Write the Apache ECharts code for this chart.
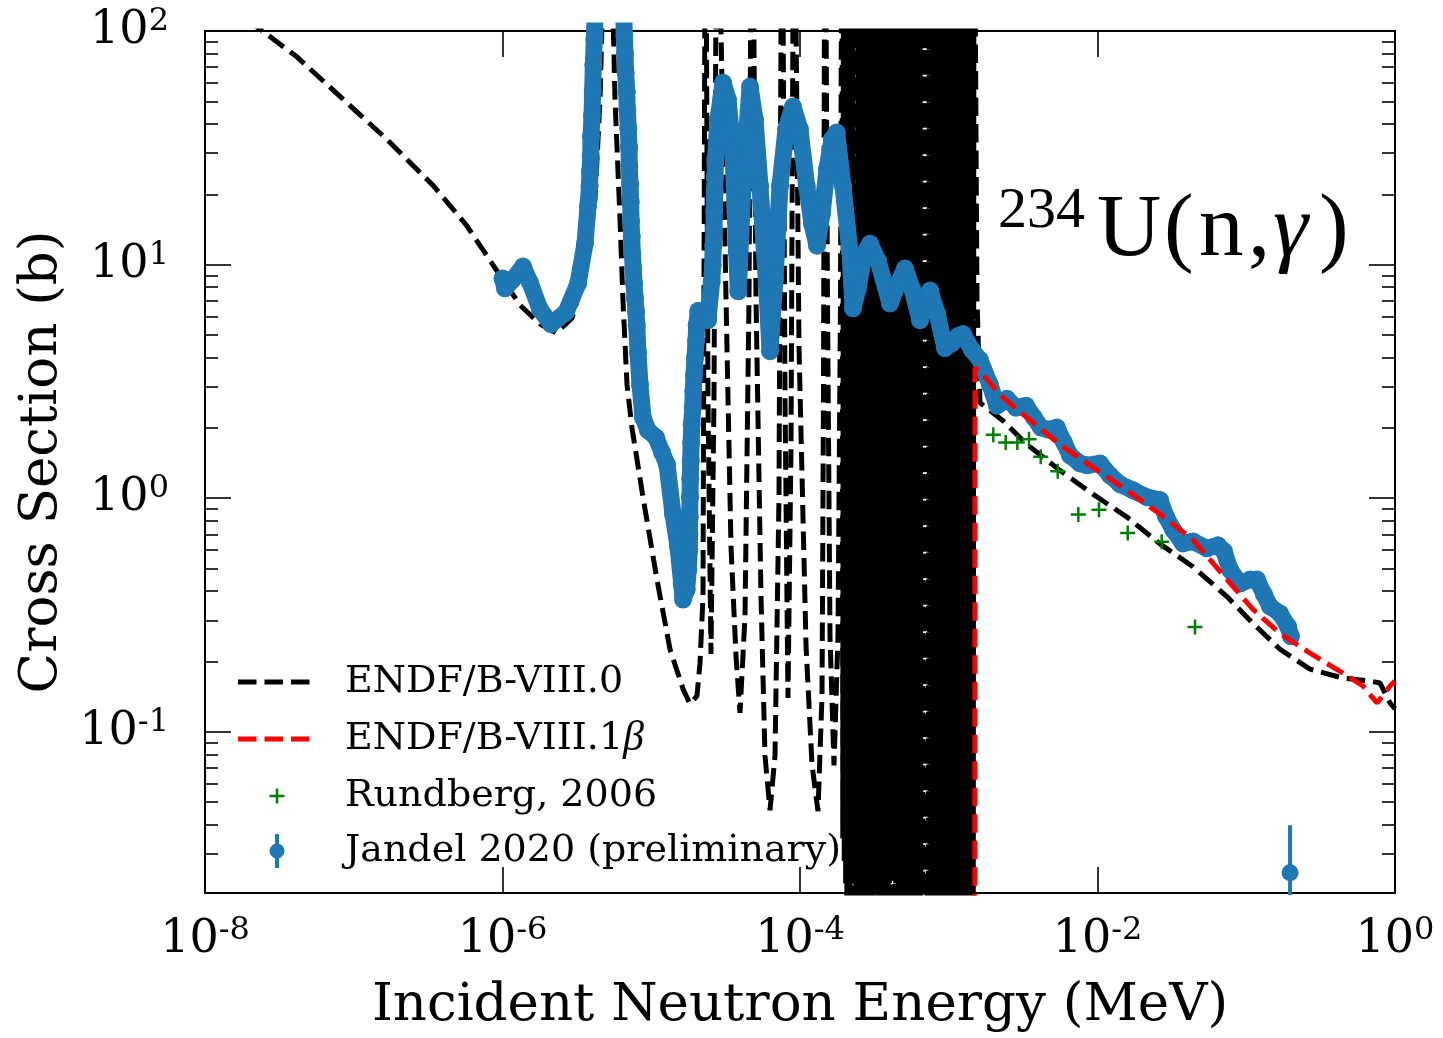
<!DOCTYPE html>
<html>
<head>
<meta charset="utf-8">
<title>234U(n,γ) capture cross section</title>
<script src="https://cdn.jsdelivr.net/npm/echarts@6/dist/echarts.min.js"></script>
<style>
  html, body { margin: 0; padding: 0; background: #ffffff; }
  #chart { width: 1443px; height: 1038px; }
</style>
</head>
<body>
<div id="chart"></div>
<script>
// Incident neutron energy in MeV, capture cross section in barns.
// Resonance tops run far above the plotted range (given as 1000 b) and the
// deepest resonance valleys drop below its lower edge.

// ENDF/B-VIII.0: 1/v region, resolved resonances, then the smooth fast range
const endf80 = [
  [1e-8, 152], [2.47e-8, 99.3], [4.13e-8, 77.7], [8.08e-8, 52.5], [1.665e-7, 34.4],
  [3.42e-7, 21.8], [5.74e-7, 14.7], [8.67e-7, 9.93], [1.31e-6, 6.71], [1.787e-6, 5.56],
  [2.289e-6, 5.09], [2.932e-6, 5.89], [3.586e-6, 9.16], [4.187e-6, 19.1], [4.525e-6, 50.9],
  [5.12e-6, 1000], [5.706e-6, 50.9], [6.165e-6, 15.7], [6.458e-6, 6.96], [6.871e-6, 3.06],
  [7.42e-6, 2.0], [8.80e-6, 1.01], [1.093e-5, 0.448], [1.337e-5, 0.2255], [1.635e-5, 0.1524],
  [1.822e-5, 0.1316], [2.030e-5, 0.1423], [2.127e-5, 0.1966], [2.228e-5, 0.379], [2.316e-5, 1000],
  [2.406e-5, 2.69], [2.521e-5, 0.215], [2.641e-5, 2.69], [2.766e-5, 1000], [2.944e-5, 100],
  [3.181e-5, 7.17], [3.437e-5, 0.619], [3.714e-5, 0.2106], [3.950e-5, 0.1205], [4.268e-5, 0.3116],
  [4.541e-5, 7.17], [4.756e-5, 1000], [5.06e-5, 7.17], [5.467e-5, 0.379], [5.817e-5, 0.079],
  [6.285e-5, 0.0461], [6.791e-5, 0.079], [7.224e-5, 1.01], [7.568e-5, 1000], [7.93e-5, 2.69],
  [8.30e-5, 0.1395], [8.70e-5, 1.648], [9.11e-5, 1000], [9.85e-5, 4.39], [1.098e-4, 0.2323],
  [1.204e-4, 0.0724], [1.321e-4, 0.0457], [1.406e-4, 0.1423], [1.438e-4, 2.69], [1.473e-4, 1000],
  [1.530e-4, 7.17], [1.591e-4, 0.2563], [1.693e-4, 0.0717], [1.800e-4, 0.2563], [1.872e-4, 7.17],
  // densely packed resonances up to the end of the resolved range
  [1.916e-4, 1000], [1.939e-4, 0.035], [1.961e-4, 1000], [1.984e-4, 0.028], [2.007e-4, 1000],
  [2.027e-4, 0.022], [2.046e-4, 1000], [2.066e-4, 0.018], [2.086e-4, 1000], [2.115e-4, 0.030],
  [2.143e-4, 1000], [2.173e-4, 0.012], [2.202e-4, 1000], [2.228e-4, 0.015], [2.254e-4, 1000],
  [2.281e-4, 0.024], [2.307e-4, 1000], [2.330e-4, 0.026], [2.352e-4, 1000], [2.375e-4, 0.010],
  [2.398e-4, 1000], [2.431e-4, 0.012], [2.464e-4, 1000], [2.498e-4, 0.019], [2.531e-4, 1000],
  [2.556e-4, 0.020], [2.581e-4, 1000], [2.606e-4, 0.009], [2.631e-4, 1000], [2.668e-4, 0.010],
  [2.704e-4, 1000], [2.741e-4, 0.016], [2.778e-4, 1000], [2.811e-4, 0.028], [2.843e-4, 1000],
  [2.877e-4, 0.011], [2.910e-4, 1000], [2.939e-4, 0.013], [2.967e-4, 1000], [2.996e-4, 0.008],
  [3.025e-4, 1000], [3.067e-4, 0.009], [3.108e-4, 1000], [3.151e-4, 0.021], [3.193e-4, 1000],
  [3.237e-4, 0.024], [3.281e-4, 1000], [3.326e-4, 0.010], [3.371e-4, 1000], [3.404e-4, 0.011],
  [3.437e-4, 1000], [3.471e-4, 0.014], [3.504e-4, 1000], [3.545e-4, 0.016], [3.586e-4, 1000],
  [3.628e-4, 0.009], [3.670e-4, 1000], [3.721e-4, 0.008], [3.771e-4, 1000], [3.823e-4, 0.012],
  [3.875e-4, 1000], [3.913e-4, 0.019], [3.951e-4, 1000], [3.990e-4, 0.010], [4.028e-4, 1000],
  [4.075e-4, 0.012], [4.122e-4, 1000], [4.171e-4, 0.023], [4.219e-4, 1000], [4.277e-4, 0.027],
  [4.335e-4, 1000], [4.395e-4, 0.009], [4.454e-4, 1000], [4.498e-4, 0.009], [4.541e-4, 1000],
  [4.586e-4, 0.013], [4.630e-4, 1000], [4.684e-4, 0.014], [4.738e-4, 1000], [4.794e-4, 0.008],
  [4.850e-4, 1000], [4.917e-4, 0.010], [4.983e-4, 1000], [5.052e-4, 0.017], [5.120e-4, 1000],
  [5.170e-4, 0.022], [5.220e-4, 1000], [5.271e-4, 0.009], [5.322e-4, 1000], [5.385e-4, 0.008],
  [5.447e-4, 1000], [5.511e-4, 0.012], [5.575e-4, 1000], [5.652e-4, 0.013], [5.728e-4, 1000],
  [5.807e-4, 0.010], [5.885e-4, 1000], [5.943e-4, 0.018], [6.000e-4, 1000], [6.059e-4, 0.008],
  [6.117e-4, 1000], [6.190e-4, 0.009], [6.262e-4, 1000], [6.335e-4, 0.014], [6.408e-4, 1000],
  [6.496e-4, 0.012], [6.584e-4, 1000], [6.675e-4, 0.020], [6.765e-4, 1000], [6.831e-4, 0.025],
  [6.897e-4, 1000], [6.965e-4, 0.009], [7.032e-4, 1000], [7.115e-4, 0.010], [7.197e-4, 1000],
  [7.282e-4, 0.012], [7.366e-4, 1000], [7.467e-4, 0.015], [7.568e-4, 1000], [7.672e-4, 0.008],
  [7.776e-4, 1000], [7.852e-4, 0.008], [7.928e-4, 1000], [8.006e-4, 0.011], [8.083e-4, 1000],
  [8.178e-4, 0.020], [8.273e-4, 1000], [8.370e-4, 0.009], [8.467e-4, 1000], [8.584e-4, 0.011],
  [8.700e-4, 1000], [8.820e-4, 0.013], [8.939e-4, 1000], [9.026e-4, 0.009], [9.113e-4, 1000],
  [9.202e-4, 0.010], [9.291e-4, 1000], [9.401e-4, 0.016], [9.510e-4, 1000], [9.622e-4, 0.008],
  [9.733e-4, 1000], [9.867e-4, 0.010], [1.000e-3, 1000], [1.014e-3, 0.012], [1.028e-3, 1000],
  [1.038e-3, 0.013], [1.048e-3, 1000], [1.058e-3, 0.009], [1.068e-3, 1000], [1.081e-3, 0.008],
  [1.093e-3, 1000], [1.106e-3, 0.011], [1.119e-3, 1000], [1.134e-3, 0.018], [1.149e-3, 1000],
  [1.165e-3, 0.009], [1.181e-3, 1000], [1.193e-3, 0.010], [1.204e-3, 1000], [1.216e-3, 0.012],
  [1.228e-3, 1000], [1.242e-3, 0.012], [1.256e-3, 1000], [1.271e-3, 0.008], [1.286e-3, 1000],
  [1.304e-3, 0.009], [1.321e-3, 1000], [1.340e-3, 0.013], [1.358e-3, 1000], [1.371e-3, 0.014],
  [1.384e-3, 1000], [1.398e-3, 0.009], [1.411e-3, 1000], [1.428e-3, 0.010], [1.444e-3, 1000],
  [1.461e-3, 0.011], [1.478e-3, 1000],
  // smooth fast range
  [1.548e-3, 7.17], [1.622e-3, 2.56], [2.316e-3, 2.147], [3.357e-3, 1.697], [5.596e-3, 1.315],
  [9.326e-3, 1.04], [1.579e-2, 0.830], [2.632e-2, 0.637], [4.385e-2, 0.5086], [7.42e-2, 0.379],
  [0.111, 0.291], [0.1686, 0.2255], [0.2683, 0.1854], [0.447, 0.1697], [0.679, 0.1648],
  [0.793, 0.1616], [0.926, 0.1329], [1.0, 0.1253]
];

// ENDF/B-VIII.1 beta: shown above the end of the resolved range
const endf81b = [
  [1.499e-3, 0.01], [1.501e-3, 3.61], [1.622e-3, 3.505], [2.21e-3, 2.771], [3.357e-3, 2.212],
  [5.596e-3, 1.697], [9.326e-3, 1.355], [1.579e-2, 1.081], [2.632e-2, 0.855], [4.385e-2, 0.663],
  [7.42e-2, 0.448], [0.111, 0.334], [0.1686, 0.2638], [0.2683, 0.2169], [0.447, 0.1783],
  [0.609, 0.157], [0.757, 0.1329], [0.926, 0.157], [1.0, 0.165]
];

// Rundberg, 2006
const rundberg2006 = [
  [1.993e-3, 1.867], [2.415e-3, 1.731], [2.890e-3, 1.731], [3.463e-3, 1.788], [4.151e-3, 1.504],
  [5.40e-3, 1.303], [7.43e-3, 0.852], [1.023e-2, 0.892], [1.596e-2, 0.710], [2.702e-2, 0.650],
  [4.523e-2, 0.2806]
];

// Jandel 2020 (preliminary), dense point-wise data
const jandel2020 = [
  [1.0e-6, 8.72], [1.039e-6, 7.91], [1.159e-6, 8.55], [1.373e-6, 9.81], [1.531e-6, 8.38],
  [1.787e-6, 6.43], [2.119e-6, 5.56], [2.673e-6, 6.25], [3.219e-6, 8.30], [3.586e-6, 12.3],
  [3.757e-6, 17.8], [3.845e-6, 21.7], [3.875e-6, 24.9], [3.917e-6, 29.1], [3.936e-6, 35.4],
  [3.997e-6, 43.5], [4.041e-6, 55.6], [4.078e-6, 71.7], [4.143e-6, 92.5], [4.22e-6, 130],
  [6.51e-6, 130], [6.59e-6, 96.2], [6.66e-6, 80.6], [6.73e-6, 66.3], [6.84e-6, 55.0],
  [6.90e-6, 46.1], [7.01e-6, 38.3], [7.09e-6, 31.8], [7.12e-6, 26.4], [7.20e-6, 22.1],
  [7.27e-6, 18.5], [7.31e-6, 15.4], [7.39e-6, 13.2], [7.46e-6, 11.1], [7.57e-6, 9.62],
  [7.66e-6, 8.30], [7.78e-6, 7.17], [7.90e-6, 6.31], [7.99e-6, 5.50], [8.15e-6, 4.18],
  [8.40e-6, 3.06], [8.80e-6, 2.21], [9.51e-6, 1.95], [1.076e-5, 1.82], [1.181e-5, 1.57],
  [1.276e-5, 1.395], [1.400e-5, 0.855], [1.513e-5, 0.619], [1.602e-5, 0.431], [1.635e-5, 0.368],
  [1.731e-5, 0.406], [1.774e-5, 0.494], [1.802e-5, 0.601], [1.808e-5, 0.703], [1.813e-5, 0.830],
  [1.822e-5, 1.010], [1.830e-5, 1.205], [1.842e-5, 1.451], [1.856e-5, 1.731], [1.870e-5, 2.065],
  [1.900e-5, 2.439], [1.917e-5, 2.882], [1.938e-5, 3.371], [1.968e-5, 3.981], [1.999e-5, 4.703],
  [2.021e-5, 5.50], [2.071e-5, 6.34], [2.228e-5, 6.01], [2.406e-5, 5.78], [2.548e-5, 8.47],
  [2.588e-5, 9.90], [2.613e-5, 12.05], [2.641e-5, 14.23], [2.653e-5, 16.97], [2.670e-5, 20.45],
  [2.682e-5, 23.69], [2.704e-5, 28.26], [2.810e-5, 41.8], [3.038e-5, 60.1], [3.281e-5, 50.9],
  [3.545e-5, 30.3], [3.754e-5, 11.36], [3.847e-5, 7.68], [4.137e-5, 21.7], [4.612e-5, 57.8],
  [4.983e-5, 41.8], [5.384e-5, 21.7], [5.973e-5, 8.14], [6.285e-5, 4.26], [6.791e-5, 8.72],
  [7.338e-5, 21.7], [8.05e-5, 37.9], [8.97e-5, 47.5], [1.000e-4, 37.9], [1.109e-4, 21.7],
  [1.204e-4, 14.94], [1.301e-4, 12.05], [1.406e-4, 16.48], [1.519e-4, 25.6], [1.641e-4, 34.4],
  [1.765e-4, 36.8], [1.945e-4, 21.7], [2.168e-4, 11.36], [2.272e-4, 6.50], [2.455e-4, 7.91],
  [2.694e-4, 11.14], [2.955e-4, 12.29], [3.345e-4, 10.40], [4.027e-4, 6.82], [4.558e-4, 8.30],
  [5.080e-4, 9.62], [5.660e-4, 7.91], [6.405e-4, 5.78], [6.923e-4, 6.82], [7.480e-4, 7.75],
  [8.337e-4, 6.19], [9.436e-4, 4.39], [1.052e-3, 4.61], [1.154e-3, 4.94], [1.247e-3, 5.04],
  [1.433e-3, 4.31], [1.622e-3, 3.905], [1.894e-3, 3.056], [2.111e-3, 2.488], [2.463e-3, 2.664],
  [2.832e-3, 2.439], [3.307e-3, 2.488], [3.741e-3, 2.211], [4.172e-3, 2.005], [4.648e-3, 1.966],
  [5.341e-3, 2.005], [5.953e-3, 1.731], [6.533e-3, 1.524], [7.625e-3, 1.409], [8.503e-3, 1.382],
  [1.039e-2, 1.409], [1.213e-2, 1.253], [1.417e-2, 1.147], [1.733e-2, 1.081], [2.152e-2, 1.010],
  [2.632e-2, 0.981], [2.887e-2, 0.834], [3.218e-2, 0.734], [3.757e-2, 0.640], [4.385e-2, 0.653],
  [5.445e-2, 0.610], [6.457e-2, 0.628], [7.087e-2, 0.592], [7.776e-2, 0.494], [9.078e-2, 0.431],
  [0.1060, 0.448], [0.1181, 0.448], [0.1316, 0.387], [0.1444, 0.344], [0.1686, 0.321],
  [0.1909, 0.2825], [0.1999, 0.2563]
];

// Jandel 2020 high-energy point with its uncertainty band
const jandelPointE = [0.197];
const jandelPointXs = [0.0249];
const jandelPointLow = [0.010];
const jandelPointHigh = [0.0398];

const seriesNames = ['ENDF/B-VIII.0', 'ENDF/B-VIII.1β', 'Rundberg, 2006', 'Jandel 2020 (preliminary)'];
const xTickValues = [1e-8, 1e-6, 1e-4, 1e-2, 1];
const yTickValues = [0.1, 1, 10, 100];
const yMinorTickValues = [
  0.03, 0.04, 0.05, 0.06, 0.07, 0.08, 0.09,
  0.2, 0.3, 0.4, 0.5, 0.6, 0.7, 0.8, 0.9,
  2, 3, 4, 5, 6, 7, 8, 9,
  20, 30, 40, 50, 60, 70, 80, 90
];

const SERIF = 'DejaVu Serif';
const MATH = 'Liberation Serif';
const X_MIN = 0.99999e-8, X_MAX = 1.00001;
const Y_MIN = 0.0204, Y_MAX = 100.001;

function powerLabel(v) {
  const p = Math.round(Math.log10(v));
  return '{b|10}{s|' + p + '}';
}
const tickRich = {
  b: { fontFamily: SERIF, fontSize: 46, lineHeight: 50, color: '#000' },
  s: { fontFamily: SERIF, fontSize: 32, lineHeight: 24, verticalAlign: 'top', color: '#000' }
};
const tickLine = { color: '#000', width: 1.6 };

function xAxisDef(position, withLabels) {
  return {
    type: 'log', logBase: 10, min: X_MIN, max: X_MAX, position: position,
    axisLine: { show: false, onZero: false },
    splitLine: { show: false },
    axisTick: { show: true, inside: true, length: 26, customValues: xTickValues, lineStyle: tickLine },
    axisLabel: withLabels
      ? { show: true, customValues: xTickValues, formatter: powerLabel, rich: tickRich, margin: 22 }
      : { show: false }
  };
}
function yAxisDef(position, minor, withLabels) {
  const values = minor ? yMinorTickValues : yTickValues;
  return {
    type: 'log', logBase: 10, min: Y_MIN, max: Y_MAX, position: position,
    axisLine: { show: false, onZero: false },
    splitLine: { show: false },
    axisTick: { show: true, inside: true, length: minor ? 13 : 26, customValues: values, lineStyle: tickLine },
    axisLabel: withLabels
      ? { show: true, customValues: yTickValues, formatter: powerLabel, rich: tickRich, margin: 36 }
      : { show: false }
  };
}

const xBottom = xAxisDef('bottom', true);
xBottom.name = 'Incident Neutron Energy (MeV)';
xBottom.nameLocation = 'middle';
xBottom.nameGap = 87;
xBottom.nameTextStyle = { fontFamily: SERIF, fontSize: 53, color: '#000' };

const yLeft = yAxisDef('left', false, true);
yLeft.name = 'Cross Section (b)';
yLeft.nameLocation = 'middle';
yLeft.nameRotate = 90;
yLeft.nameGap = 123;
yLeft.nameTextStyle = { fontFamily: SERIF, fontSize: 53, color: '#000' };

// legend glyphs, each laid out in a 102 x 34 box
const dashIcon = 'path://M0,0M102,34M0,14.5h18.5v5h-18.5zM26.5,14.5h18.5v5h-18.5zM53,14.5h18.5v5h-18.5z';
const plusIcon = 'path://M0,0M102,34M31.5,15.75h15v2.5h-15zM37.75,9.5h2.5v15h-2.5z';
const dotBarIcon = 'path://M0,0M102,34M37,0h4v34h-4zM46.5,17a7.5,7.5 0 1 1 -15,0a7.5,7.5 0 1 1 15,0z';

const chart = echarts.init(document.getElementById('chart'), null, { renderer: 'canvas' });

chart.setOption({
  animation: false,
  backgroundColor: '#ffffff',
  textStyle: { fontFamily: SERIF },
  grid: {
    left: 205, right: 48, top: 31, bottom: 140,
    show: true, borderColor: '#000', borderWidth: 2, backgroundColor: 'transparent'
  },
  xAxis: [xBottom, xAxisDef('top', false)],
  yAxis: [yLeft, yAxisDef('left', true, false), yAxisDef('right', false, false), yAxisDef('right', true, false)],
  legend: {
    orient: 'vertical', left: 238, top: 663, padding: 0,
    itemWidth: 102, itemHeight: 34, itemGap: 17,
    selectedMode: false,
    itemStyle: { borderWidth: 0 },
    textStyle: {
      fontFamily: SERIF, fontSize: 38, color: '#000', lineHeight: 34,
      rich: { it: { fontFamily: MATH, fontStyle: 'italic', fontSize: 42, lineHeight: 34, color: '#000' } }
    },
    formatter: function (name) { return name.replace('β', '{it|β}'); },
    data: [
      { name: seriesNames[0], icon: dashIcon, itemStyle: { color: '#000000', borderWidth: 0, opacity: 1 } },
      { name: seriesNames[1], icon: dashIcon, itemStyle: { color: '#ff0000', borderWidth: 0, opacity: 1 } },
      { name: seriesNames[2], icon: plusIcon, itemStyle: { color: '#008000', borderWidth: 0, opacity: 1 } },
      { name: seriesNames[3], icon: dotBarIcon, itemStyle: { color: '#1f77b4', borderWidth: 0, opacity: 1 } }
    ]
  },
  graphic: [
    {
      type: 'text', x: 998, y: 212, z: 100, silent: true,
      style: { text: '234', fontFamily: MATH, fontSize: 58, fill: '#000', align: 'left', verticalAlign: 'middle' }
    },
    {
      type: 'text', x: 1097, y: 232, z: 100, silent: true,
      style: {
        text: '{u|U}{lp|(}{n|n}{c|,}{g|γ}{rp|)}',
        align: 'left', verticalAlign: 'middle',
        fontFamily: MATH, fontSize: 89, fill: '#000',
        rich: {
          u: { fontFamily: MATH, fontSize: 89, fill: '#000', width: 67 },
          lp: { fontFamily: MATH, fontSize: 89, fill: '#000', width: 35 },
          n: { fontFamily: MATH, fontSize: 89, fill: '#000', width: 49 },
          c: { fontFamily: MATH, fontSize: 89, fill: '#000', width: 25 },
          g: { fontFamily: MATH, fontSize: 89, fontStyle: 'italic', fill: '#000', width: 46 },
          rp: { fontFamily: MATH, fontSize: 89, fill: '#000', width: 35 }
        }
      }
    }
  ],
  series: [
    {
      name: seriesNames[0], type: 'line', data: endf80, symbol: 'none', clip: true, silent: true, z: 2,
      lineStyle: { color: '#000000', width: 5, type: [18.5, 8] }
    },
    {
      name: seriesNames[3], type: 'line', data: jandel2020, clip: true, silent: true, z: 3,
      symbol: 'circle', symbolSize: 18, showSymbol: true, showAllSymbol: true,
      itemStyle: { color: '#1f77b4', opacity: 1 },
      lineStyle: { color: '#1f77b4', width: 17, cap: 'round', join: 'round' }
    },
    {
      name: seriesNames[1], type: 'line', data: endf81b, symbol: 'none', clip: true, silent: true, z: 4,
      lineStyle: { color: '#ff0000', width: 5, type: [18.5, 8] }
    },
    {
      name: seriesNames[2], type: 'scatter', data: rundberg2006, clip: true, silent: true, z: 5,
      symbol: 'path://M0,6.25h15v2.5h-15zM6.25,0h2.5v15h-2.5z', symbolSize: 15,
      itemStyle: { color: '#008000', opacity: 1 }
    },
    {
      name: seriesNames[3], type: 'line', symbol: 'none', clip: true, silent: true, z: 3,
      data: [[jandelPointE[0], jandelPointLow[0]], [jandelPointE[0], jandelPointHigh[0]]],
      lineStyle: { color: '#1f77b4', width: 4 }
    },
    {
      name: seriesNames[3], type: 'scatter', clip: true, silent: true, z: 3,
      data: jandelPointE.map(function (e, i) { return [e, jandelPointXs[i]]; }),
      symbol: 'circle', symbolSize: 17, itemStyle: { color: '#1f77b4', opacity: 1 }
    }
  ]
});
</script>
</body>
</html>
